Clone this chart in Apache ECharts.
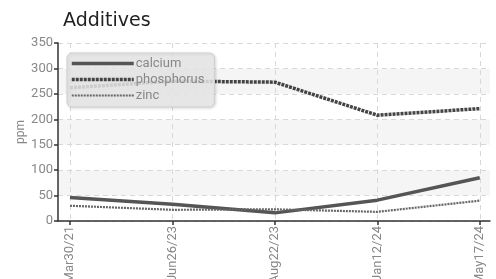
<!DOCTYPE html>
<html>
<head>
<meta charset="utf-8">
<script src="https://cdn.jsdelivr.net/npm/echarts@6/dist/echarts.min.js"></script>
<style>
  html, body { margin: 0; padding: 0; background: #fff; }
  #chart { width: 496px; height: 279px; }
</style>
</head>
<body>
<div id="chart"></div>
<script>
// data
const dates = ['Mar30/21', 'Jun26/23', 'Aug22/23', 'Jan12/24', 'May17/24']
const calcium = [46, 33, 16, 41, 85]
const phosphorus = [262, 275, 273, 208, 221]
const zinc = [30, 22, 23, 18, 40]
const yTicks = [0, 50, 100, 150, 200, 250, 300, 350]

const idx = dates.map((d, i) => i)
const pairs = vals => vals.map((v, i) => [i, v])

const chart = echarts.init(document.getElementById('chart'))
const option = {
  animation: false,
  textStyle: { fontFamily: 'Roboto' },
  title: {
    text: 'Additives',
    left: 58,
    top: 7,
    textStyle: { fontFamily: 'DejaVu Sans', fontSize: 19, fontWeight: 'normal', color: '#222' }
  },
  legend: {
    orient: 'vertical',
    left: 67,
    top: 53,
    padding: [4, 10, 5, 3],
    itemWidth: 62,
    itemHeight: 14,
    itemGap: 3,
    backgroundColor: 'rgba(232,232,232,0.85)',
    borderColor: '#d0d0d0',
    borderWidth: 1,
    borderRadius: 5,
    shadowColor: 'rgba(0,0,0,0.15)',
    shadowBlur: 3,
    shadowOffsetX: 1,
    shadowOffsetY: 1,
    itemStyle: { opacity: 0 },
    lineStyle: { width: 'inherit' },
    textStyle: { color: '#888', fontSize: 13, fontFamily: 'Roboto', padding: [0, 0, 0, -3] },
    data: ['calcium', 'phosphorus', 'zinc']
  },
  grid: { left: 58, right: 6, top: 43, bottom: 58, outerBoundsMode: 'none', containLabel: false },
  xAxis: {
    type: 'value',
    min: -0.117,
    max: 4.1,
    axisLine: { lineStyle: { color: '#333', width: 1.5 } },
    axisTick: { customValues: idx, length: 4, inside: false, lineStyle: { color: '#333', width: 1.5 } },
    axisLabel: {
      customValues: idx,
      rotate: 90,
      color: '#888',
      fontSize: 13,
      margin: 5,
      formatter: v => dates[Math.round(v)]
    },
    splitLine: { show: true, lineStyle: { color: '#d8d8d8', type: [5, 4] } }
  },
  yAxis: {
    type: 'value',
    min: 0,
    max: 350,
    interval: 50,
    name: 'ppm',
    nameLocation: 'middle',
    nameGap: 31,
    nameMoveOverlap: false,
    nameTextStyle: { color: '#888', fontSize: 12 },
    axisLine: { show: true, onZero: false, lineStyle: { color: '#333', width: 1.5 } },
    axisTick: { show: true, length: 4, lineStyle: { color: '#333', width: 1.5 } },
    axisLabel: { color: '#888', fontSize: 13, margin: 5, formatter: v => yTicks.includes(v) ? v : '' },
    splitLine: { show: true, lineStyle: { color: '#d8d8d8', type: [5, 4] } },
    splitArea: { show: true, areaStyle: { color: ['#ffffff', '#f5f5f5'] } }
  },
  series: [
    {
      name: 'calcium',
      type: 'line',
      symbol: 'none',
      data: pairs(calcium),
      lineStyle: { color: '#555', width: 3.5 },
      itemStyle: { color: '#555' }
    },
    {
      name: 'phosphorus',
      type: 'line',
      symbol: 'none',
      data: pairs(phosphorus),
      lineStyle: { color: '#444', width: 3.5, type: [3, 1] },
      itemStyle: { color: '#444' }
    },
    {
      name: 'zinc',
      type: 'line',
      symbol: 'none',
      data: pairs(zinc),
      lineStyle: { color: '#666', width: 2.2, type: [2, 1] },
      itemStyle: { color: '#666' }
    }
  ]
}
chart.setOption(option)
</script>
</body>
</html>
